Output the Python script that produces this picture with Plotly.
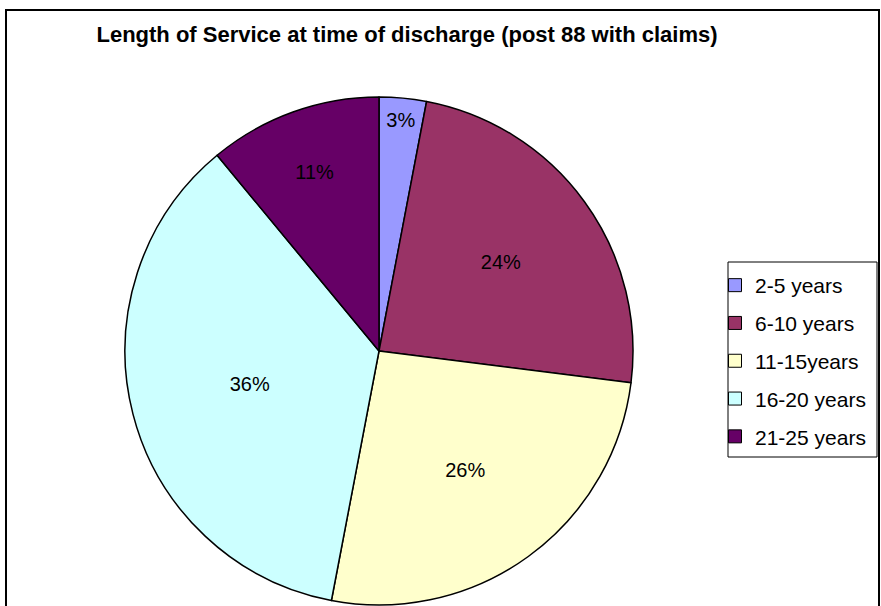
import plotly.graph_objects as go

categories = ["2-5 years", "6-10 years", "11-15years", "16-20 years", "21-25 years"]
values = [3, 24, 26, 36, 11]
colors = ["#9999FF", "#993366", "#FFFFCC", "#CCFFFF", "#660066"]
title_text = "Length of Service at time of discharge (post 88 with claims)"

W, H = 881, 606
FONT = "Arial, Liberation Sans, sans-serif"


def px(x):
    return x / W


def py(y):
    return (H - y) / H


fig = go.Figure()
fig.add_trace(go.Pie(
    labels=categories,
    values=values,
    sort=False,
    direction="clockwise",
    rotation=0,
    marker=dict(colors=colors, line=dict(color="black", width=1.5)),
    textinfo="percent",
    textposition="inside",
    insidetextorientation="horizontal",
    textfont=dict(family=FONT, size=20, color="black"),
    showlegend=False,
    hoverinfo="label+percent",
    domain=dict(x=[px(125), px(633)], y=[py(605), py(97)]),
))

# legend entries (one per category, separate groups for spacing)
for cat, col in zip(categories, colors):
    fig.add_trace(go.Scatter(
        x=[None], y=[None], mode="markers", name=cat,
        legendgroup=cat,
        marker=dict(symbol="square", size=13, color=col,
                    line=dict(color="black", width=1)),
        hoverinfo="skip",
    ))

fig.update_layout(
    width=W, height=H,
    margin=dict(l=0, r=0, t=0, b=0),
    paper_bgcolor="white", plot_bgcolor="white",
    xaxis=dict(visible=False), yaxis=dict(visible=False),
    font=dict(family=FONT, size=20, color="black"),
    uniformtext=dict(minsize=20, mode="show"),
    title=dict(text="<b>" + title_text + "</b>", x=px(407), xanchor="center",
               y=py(34), yanchor="middle",
               font=dict(family=FONT, size=22, color="black")),
    legend=dict(x=px(715), y=py(265), xanchor="left", yanchor="top",
                borderwidth=0, bgcolor="rgba(0,0,0,0)",
                tracegroupgap=7.5, traceorder="grouped",
                font=dict(family=FONT, size=21, color="black")),
    shapes=[
        dict(type="rect", xref="paper", yref="paper",
             x0=px(6), x1=px(879), y0=-0.05, y1=py(10),
             line=dict(color="black", width=2), layer="below"),
        dict(type="rect", xref="paper", yref="paper",
             x0=px(728), x1=px(877), y0=py(457), y1=py(262),
             line=dict(color="black", width=1), fillcolor="white",
             layer="below"),
    ],
)

fig.write_html(
    "out.html",
    config={"displayModeBar": False},
    post_script="document.body.style.margin='0';document.body.style.overflow='hidden';",
)
